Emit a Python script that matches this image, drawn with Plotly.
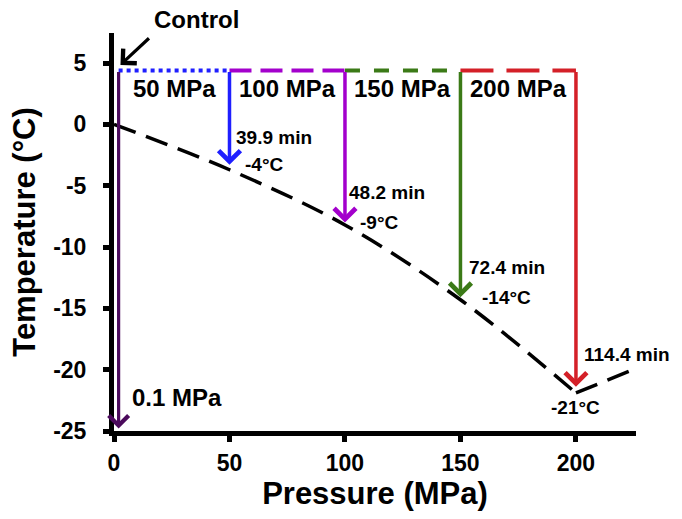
import plotly.graph_objects as go

# ---- data ----
pressures = [50, 100, 150, 200]                 # MPa, treatment pressures
seg_starts = [2, 50, 100, 150]                  # where each horizontal segment starts
freeze_temps = [-4, -9, -14, -21]               # labelled freezing temperatures (°C)
arrow_tips = [-3.3, -8.0, -14.1, -21.4]         # where arrows end (°C)
times_min = [39.9, 48.2, 72.4, 114.4]           # freezing times (min)
start_temp = 4.4                                # initial temperature (°C)
control_p = 2                                   # drawn position of the 0.1 MPa control
control_tip = -24.8
curve_p = [0, 50, 100, 150, 200]
curve_t = [0, -3.7, -8.2, -14.3, -21.9]
curve2_p = [200, 226]
curve2_t = [-21.9, -19.9]
x_ticks = [0, 50, 100, 150, 200]
y_ticks = [-25, -20, -15, -10, -5, 0, 5]

colors = ["#1f1fff", "#a300cc", "#3b7a17", "#d42028"]
dashes = ["4px,4px", "22px,9px", "15px,14px", "33px,13px"]
control_color = "#4b0a5c"
FONT = "Liberation Sans, Arial, sans-serif"

fig = go.Figure()

# phase boundary (dashed black)
fig.add_trace(go.Scatter(x=curve_p, y=curve_t, mode="lines",
                         line=dict(color="black", width=3.5, dash="23px,11px", shape="spline"),
                         hoverinfo="skip", showlegend=False))
fig.add_trace(go.Scatter(x=curve2_p, y=curve2_t, mode="lines",
                         line=dict(color="black", width=3.5, dash="23px,11px"),
                         hoverinfo="skip", showlegend=False))

# horizontal compression segments
for x0, x1, c, d in zip(seg_starts, pressures, colors, dashes):
    fig.add_trace(go.Scatter(x=[x0, x1], y=[start_temp, start_temp], mode="lines",
                             line=dict(color=c, width=4, dash=d),
                             hoverinfo="skip", showlegend=False))

ann = []
def arrow(x, y, ax, ay, color, width=3.5):
    ann.append(dict(x=x, y=y, ax=ax, ay=ay, xref="x", yref="y", axref="x", ayref="y",
                    text="", showarrow=True, arrowhead=4, arrowsize=1.2,
                    arrowwidth=width, arrowcolor=color, standoff=0, startstandoff=0))

def label(x, y, text, size, xanchor="left", xshift=0, yshift=0, xref="x", yref="y"):
    ann.append(dict(x=x, y=y, xref=xref, yref=yref, text=text, showarrow=False,
                    xanchor=xanchor, yanchor="middle", xshift=xshift, yshift=yshift,
                    font=dict(family=FONT, size=size, color="black", weight="bold")))

# control arrow
arrow(control_p, control_tip, control_p, start_temp, control_color, 3.2)
# treatment arrows
for p, tip, c in zip(pressures, arrow_tips, colors):
    arrow(p, tip, p, start_temp, c)

# segment labels
for x0, x1 in zip(seg_starts, pressures):
    label((x0 + x1) / 2, start_temp, f"{x1} MPa", 24, xanchor="center", yshift=-18)

time_dx = [5, 2, 7, 6]
time_dy = [27, 30, 30, 32]
for p, tip, t, dx, dy in zip(pressures, arrow_tips, times_min, time_dx, time_dy):
    label(p, tip, f"{t} min", 19, xshift=dx, yshift=dy)

temp_dx = [14, 13, 20]
for p, tip, ft, dx in zip(pressures[:3], arrow_tips[:3], freeze_temps[:3], temp_dx):
    label(p, tip, f"{ft}°C", 19, xshift=dx)
label(pressures[3], arrow_tips[3], f"{freeze_temps[3]}°C", 19, xanchor="center", yshift=-21)

label(control_p, -22.3, "0.1 MPa", 24, xshift=11)

# "Control" pointer
ann.append(dict(x=2.8, y=4.85, ax=30, ay=-28, xref="x", yref="y",
                text="", showarrow=True, arrowhead=4, arrowsize=1.2, arrowwidth=3.2,
                arrowcolor="black", standoff=0))
label(0.159, 1.0327, "Control", 24, xanchor="center", xref="paper", yref="paper")

axis_font = dict(family=FONT, size=23, color="black", weight="bold")
title_font = dict(family=FONT, size=31, color="black", weight="bold")

fig.update_layout(
    width=682, height=519,
    margin=dict(l=114, r=46, t=33, b=88),
    plot_bgcolor="white", paper_bgcolor="white",
    annotations=ann,
    xaxis=dict(range=[0, 226], tickvals=x_ticks, ticktext=[str(v) for v in x_ticks],
               showline=True, linecolor="black", linewidth=5, automargin=False,
               ticks="outside", ticklen=6, tickwidth=5, tickcolor="black",
               showgrid=False, zeroline=False, tickfont=axis_font, ticklabelstandoff=1,
               title=dict(text="Pressure (MPa)", font=title_font, standoff=6)),
    yaxis=dict(range=[-25, 7.45], tickvals=y_ticks, ticktext=[str(v) for v in y_ticks],
               showline=True, linecolor="black", linewidth=5, automargin=False,
               ticks="outside", ticklen=6, tickwidth=5, tickcolor="black",
               showgrid=False, zeroline=False, tickfont=axis_font, ticklabelstandoff=12,
               title=dict(text="Temperature (°C)", font=title_font, standoff=10)),
)

fig.write_html("out.html", config={"displayModeBar": False},
               post_script="document.body.style.margin='0px';document.body.style.overflow='hidden';")
